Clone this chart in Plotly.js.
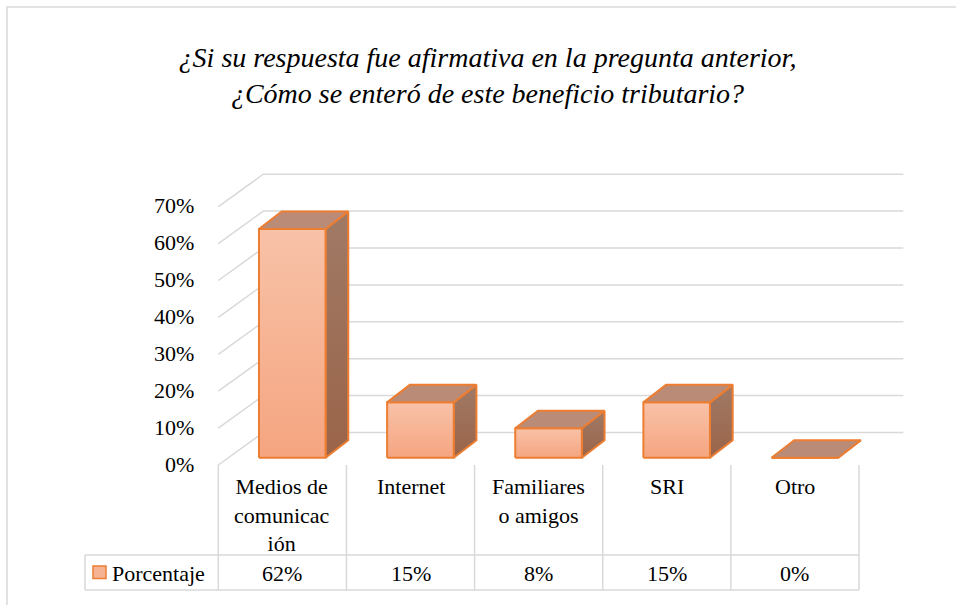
<!DOCTYPE html>
<html>
<head>
<meta charset="utf-8">
<script src="https://cdn.plot.ly/plotly-3.0.1.min.js"></script>
</head>
<body style="margin:0">
<div id="chart"></div>
<script>
// ---- data ----
const categories = ["Medios de comunicación", "Internet", "Familiares o amigos", "SRI", "Otro"];
const categoryLabels = ["Medios de<br>comunicac<br>ión", "Internet", "Familiares<br>o amigos", "SRI", "Otro"];
const values = [62, 15, 8, 15, 0];
const valueLabels = ["62%", "15%", "8%", "15%", "0%"];
const yTicks = [0, 10, 20, 30, 40, 50, 60, 70];
const yTickLabels = ["0%", "10%", "20%", "30%", "40%", "50%", "60%", "70%"];
const seriesName = "Porcentaje";
const titleLines = ["¿Si su respuesta fue afirmativa en la pregunta anterior,", "¿Cómo se enteró de este beneficio tributario?"];

// ---- geometry / style ----
const W = 956, H = 605;
const M = {l: 80, r: 50, t: 165, b: 5};
const X0PX = 218.3, UX = 128.14;   // front-plane x of category -0.5, px per category
const Y0PX = 465, UY = 3.69;       // front-plane y of 0%, px per 1%
const px2x = p => -0.5 + (p - X0PX) / UX;
const px2y = p => (Y0PX - p) / UY;

const wallDX = 45 / UX, wallDY = 32.5 / UY;
const backRight = px2x(903.3);
const barOX = 9.9 / UX, barOY = 7.3 / UY;
const barDX = 22.7 / UX, barDY = 17.5 / UY;
const barHW = 33.3 / UX;

const GRID = "#d9d9d9";
const EDGE = "#ed7d31";
const SERIF = 'Liberation Serif';

const traces = [];

// wall gridlines (left wall diagonals + back wall)
yTicks.forEach(v => {
  traces.push({
    type: "scatter", mode: "lines", hoverinfo: "skip",
    x: [-0.5, -0.5 + wallDX, backRight],
    y: [v, v + wallDY, v + wallDY],
    line: {color: GRID, width: 1.5}
  });
});

// 3D bars
values.forEach((v, i) => {
  const x0 = i - barHW + barOX, x1 = i + barHW + barOX;
  const y0 = barOY, y1 = v + barOY;
  traces.push({
    type: "scatter", mode: "lines", fill: "toself", hoverinfo: "skip",
    x: [x1, x1 + barDX, x1 + barDX, x1, x1],
    y: [y0, y0 + barDY, y1 + barDY, y1, y0],
    fillcolor: "#9d6e56",
    fillgradient: {type: "vertical", colorscale: [[0, "#9a6449"], [1, "#a07a66"]]},
    line: {color: EDGE, width: 2}
  });
  traces.push({
    type: "scatter", mode: "lines", fill: "toself", hoverinfo: "skip",
    x: [x0, x1, x1, x0, x0],
    y: [y0, y0, y1, y1, y0],
    fillcolor: "#f6b393",
    fillgradient: {type: "vertical", colorscale: [[0, "#f5a580"], [1, "#f8c2a8"]]},
    line: {color: EDGE, width: 2}
  });
  traces.push({
    type: "scatter", mode: "lines", fill: "toself", hoverinfo: "skip",
    x: [x0, x1, x1 + barDX, x0 + barDX, x0],
    y: [y1, y1, y1 + barDY, y1 + barDY, y1],
    fillcolor: "#ba8c78",
    line: {color: EDGE, width: 2}
  });
});

// ---- table shapes ----
const shapes = [];
const tTop = px2y(465), tMid = px2y(555), tBot = px2y(590);
const tLeft = px2x(85), tRight = 4.5;
for (let k = 0; k <= categories.length; k++) {
  shapes.push({type: "line", xref: "x", yref: "y", x0: k - 0.5, x1: k - 0.5, y0: tTop, y1: tBot,
    line: {color: GRID, width: 1.5}});
}
shapes.push({type: "line", xref: "x", yref: "y", x0: tLeft, x1: tRight, y0: tMid, y1: tMid, line: {color: GRID, width: 1.5}});
shapes.push({type: "line", xref: "x", yref: "y", x0: tLeft, x1: tRight, y0: tBot, y1: tBot, line: {color: GRID, width: 1.5}});
shapes.push({type: "line", xref: "x", yref: "y", x0: tLeft, x1: tLeft, y0: tMid, y1: tBot, line: {color: GRID, width: 1.5}});
shapes.push({type: "rect", xref: "x", yref: "y", x0: px2x(93), x1: px2x(106), y0: px2y(566), y1: px2y(578.5),
  fillcolor: "#f6b394", line: {color: EDGE, width: 1.5}});
const pw = W - M.l - M.r, ph = H - M.t - M.b;
shapes.push({type: "rect", xref: "paper", yref: "paper",
  x0: (7 - M.l) / pw, x1: (W + 5 - M.l) / pw,
  y0: (H - M.b - (H + 5)) / ph, y1: (H - M.b - 7) / ph,
  line: {color: GRID, width: 1.5}, fillcolor: "rgba(0,0,0,0)", layer: "below"});

// ---- annotations ----
const annotations = [];
yTicks.forEach((v, k) => {
  annotations.push({xref: "x", yref: "y", x: -0.5, y: v, xanchor: "right", yanchor: "middle",
    xshift: -22, yshift: 1, text: yTickLabels[k], showarrow: false, font: {family: SERIF, size: 22, color: "#000"}});
});
categoryLabels.forEach((c, i) => {
  annotations.push({xref: "x", yref: "y", x: i, y: px2y(471.5), xanchor: "center", yanchor: "top",
    text: c, showarrow: false, font: {family: SERIF, size: 22, color: "#000"}, align: "center"});
  annotations.push({xref: "x", yref: "y", x: i, y: px2y(573.5), xanchor: "center", yanchor: "middle",
    text: valueLabels[i], showarrow: false, font: {family: SERIF, size: 22, color: "#000"}});
});
annotations.push({xref: "x", yref: "y", x: px2x(109.5), y: px2y(573.5), xanchor: "left", yanchor: "middle",
  text: seriesName, showarrow: false, font: {family: SERIF, size: 22, color: "#000"}});

const layout = {
  width: W, height: H, margin: M,
  font: {family: SERIF, color: "#000"},
  paper_bgcolor: "#fff", plot_bgcolor: "rgba(0,0,0,0)",
  showlegend: false,
  title: {
    text: titleLines.map(t => "<i>" + t + "</i>").join("<br>"),
    font: {family: SERIF, size: 28, color: "#000"},
    x: 487.5 / W, xref: "container", xanchor: "center",
    y: 1 - 66.5 / H, yref: "container", yanchor: "middle"
  },
  xaxis: {range: [px2x(M.l), px2x(W - M.r)], visible: false, fixedrange: true},
  yaxis: {range: [px2y(H - M.b), px2y(M.t)], visible: false, fixedrange: true},
  shapes: shapes,
  annotations: annotations
};

Plotly.newPlot("chart", traces, layout, {displayModeBar: false});
</script>
</body>
</html>
